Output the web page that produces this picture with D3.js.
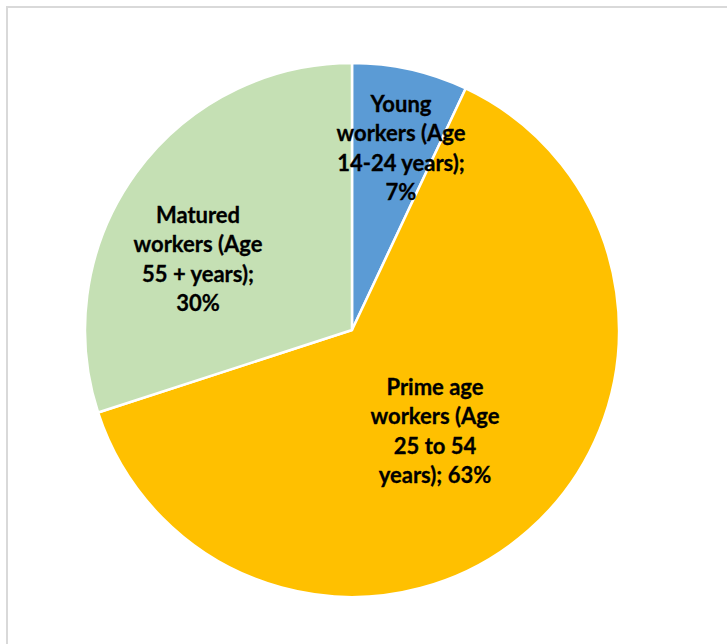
<!DOCTYPE html>
<html>
<head>
<meta charset="utf-8">
<script src="https://cdn.jsdelivr.net/npm/d3@7"></script>
<style>
  body { margin: 0; background: #fff; }
</style>
</head>
<body>
<div id="chart"></div>
<script>
const categories = ["Young workers (Age 14-24 years)", "Prime age workers (Age 25 to 54 years)", "Matured workers (Age 55 + years)"];
const shares = [7, 63, 30];
const colors = ["#5B9BD5", "#FFC000", "#C5E0B4"];
// label text broken into lines as in the original
const labelLines = [
  ["Young", "workers (Age", "14-24 years);", "7%"],
  ["Prime age", "workers (Age", "25 to 54", "years); 63%"],
  ["Matured", "workers (Age", "55 + years);", "30%"]
];
// label centres (first-line baseline)
const labelPos = [[401, 112], [435, 395], [198, 223]];

const width = 727, height = 644;
const cx = 352, cy = 330, radius = 267;

const svg = d3.select("#chart")
  .append("svg")
  .attr("width", width)
  .attr("height", height);

// chart frame
svg.append("rect")
  .attr("x", 7)
  .attr("y", 7)
  .attr("width", 900)
  .attr("height", 900)
  .attr("fill", "#fff")
  .attr("stroke", "#d9d9d9")
  .attr("stroke-width", 2);

const data = categories.map((c, i) => ({ name: c, value: shares[i], i: i }));

const pie = d3.pie().sort(null).value(d => d.value);
const arc = d3.arc().innerRadius(0).outerRadius(radius);

const g = svg.append("g").attr("transform", "translate(" + cx + "," + cy + ")");

g.selectAll("path")
  .data(pie(data))
  .enter()
  .append("path")
  .attr("d", arc)
  .attr("fill", d => colors[d.data.i])
  .attr("stroke", "#fff")
  .attr("stroke-width", 2.5)
  .attr("stroke-linejoin", "round");

const labels = svg.append("g")
  .attr("font-family", "Lato, 'Open Sans', sans-serif")
  .attr("font-weight", "bold")
  .attr("font-size", 22)
  .attr("fill", "#000")
  .attr("stroke", "#000")
  .attr("stroke-width", 0.3)
  .attr("text-anchor", "middle");

labels.selectAll("text")
  .data(data)
  .enter()
  .append("text")
  .attr("x", d => labelPos[d.i][0])
  .attr("y", d => labelPos[d.i][1])
  .each(function (d) {
    const t = d3.select(this);
    labelLines[d.i].forEach((line, k) => {
      t.append("tspan")
        .attr("x", labelPos[d.i][0])
        .attr("y", labelPos[d.i][1] + k * 29.3)
        .text(line);
    });
  });
</script>
</body>
</html>
